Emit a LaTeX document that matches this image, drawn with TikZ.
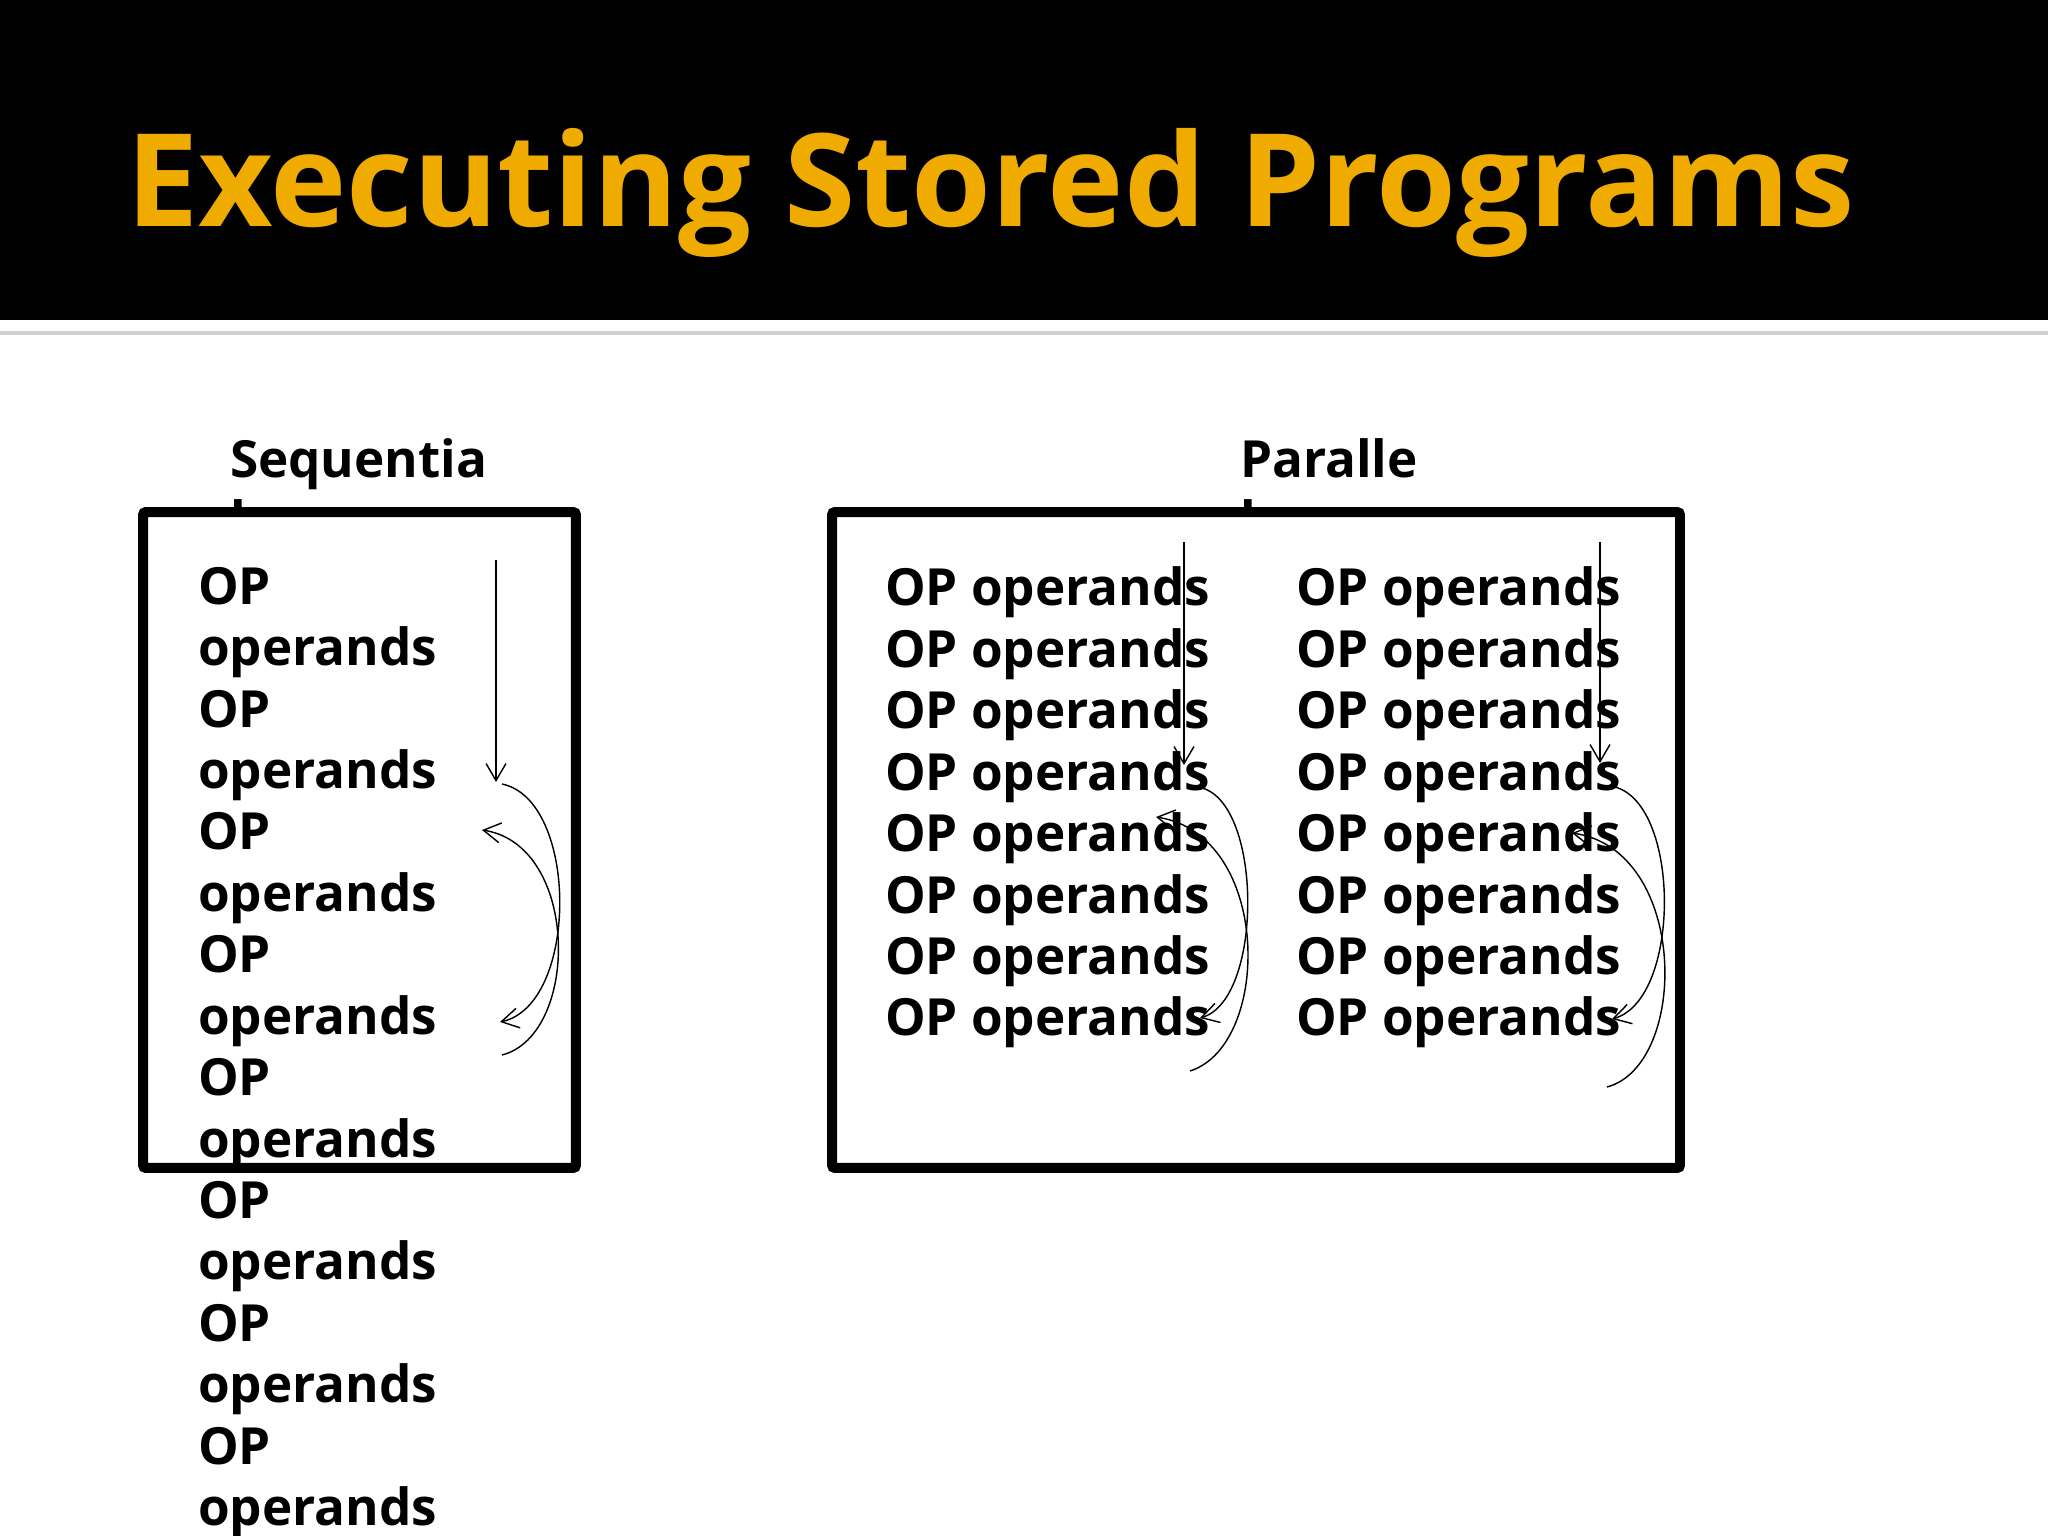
\documentclass[tikz,border=0pt]{standalone}
\usepackage{fontspec}
\setmainfont{Open Sans}
\usetikzlibrary{arrows.meta}
\definecolor{titleorange}{RGB}{240,171,0}
\begin{document}
\begin{tikzpicture}[x=0.3515625pt,y=-0.3515625pt,
  every node/.style={inner sep=0pt,outer sep=0pt},
  codetext/.style={anchor=north west, align=left, font=\fontsize{18}{21.6}\selectfont\bfseries},
  progbox/.style={draw, fill=white, line width=3.5pt, rounded corners=1pt, minimum height=230.6pt},
  arr/.style={-{Straight Barb[length=6pt,width=7pt]}, line width=0.5pt}]
\useasboundingbox (0,0) rectangle (2048,1536);
\clip (0,0) rectangle (2048,1536);
\fill[black] (0,0) rectangle (2048,320);
\draw[line width=1.5pt, black!18] (0,333) -- (2048,333);
\node[anchor=base west, text=titleorange, font=\fontsize{45.4}{54}\selectfont\bfseries] (title) at (126,227) {Executing Stored Programs};
\node[codetext, anchor=base west] (seqlabel) at (230,539) {Sequentia\\l};
\node[codetext, anchor=base west] (parlabel) at (1240,539) {Paralle\\l};
\node[progbox, minimum width=152.2pt] (seqbox) at (359.5,840) {};
\node[progbox, minimum width=298.1pt] (parbox) at (1256,840) {};
\node[codetext] (seqcode) at (198,567) {OP\\operands\\OP\\operands\\OP\\operands\\OP\\operands\\OP\\operands\\OP\\operands\\OP\\operands\\OP\\operands};
\node[codetext] (parcodea) at (885,567) {OP operands\\OP operands\\OP operands\\OP operands\\OP operands\\OP operands\\OP operands\\OP operands};
\node[codetext] (parcodeb) at (1296,567) {OP operands\\OP operands\\OP operands\\OP operands\\OP operands\\OP operands\\OP operands\\OP operands};
\coordinate (sa) at (496,560);
\coordinate (sb) at (496,782);
\coordinate (sc) at (502,784);
\coordinate (sd) at (500,1022);
\coordinate (se) at (502,1055);
\coordinate (sf) at (482,830);
\draw[arr] (sa) -- (sb);
\draw[arr] (sc) .. controls (579,800) and (579,1005) .. (sd);
\draw[arr] (se) .. controls (580,1035) and (580,845) .. (sf);
\coordinate (pa) at (1184,542);
\coordinate (pb) at (1184,765);
\coordinate (pc) at (1202,788);
\coordinate (pd) at (1200,1018);
\coordinate (pe) at (1190,1071);
\coordinate (pf) at (1156,817);
\draw[arr] (pa) -- (pb);
\draw[arr] (pc) .. controls (1263,805) and (1263,1000) .. (pd);
\draw[arr] (pe) .. controls (1272,1045) and (1272,835) .. (pf);
\coordinate (qa) at (1600,542);
\coordinate (qb) at (1600,763);
\coordinate (qc) at (1615,787);
\coordinate (qd) at (1612,1019);
\coordinate (qe) at (1607,1087);
\coordinate (qf) at (1572,833);
\draw[arr] (qa) -- (qb);
\draw[arr] (qc) .. controls (1681,805) and (1681,1000) .. (qd);
\draw[arr] (qe) .. controls (1689,1065) and (1689,850) .. (qf);
\end{tikzpicture}
\end{document}
